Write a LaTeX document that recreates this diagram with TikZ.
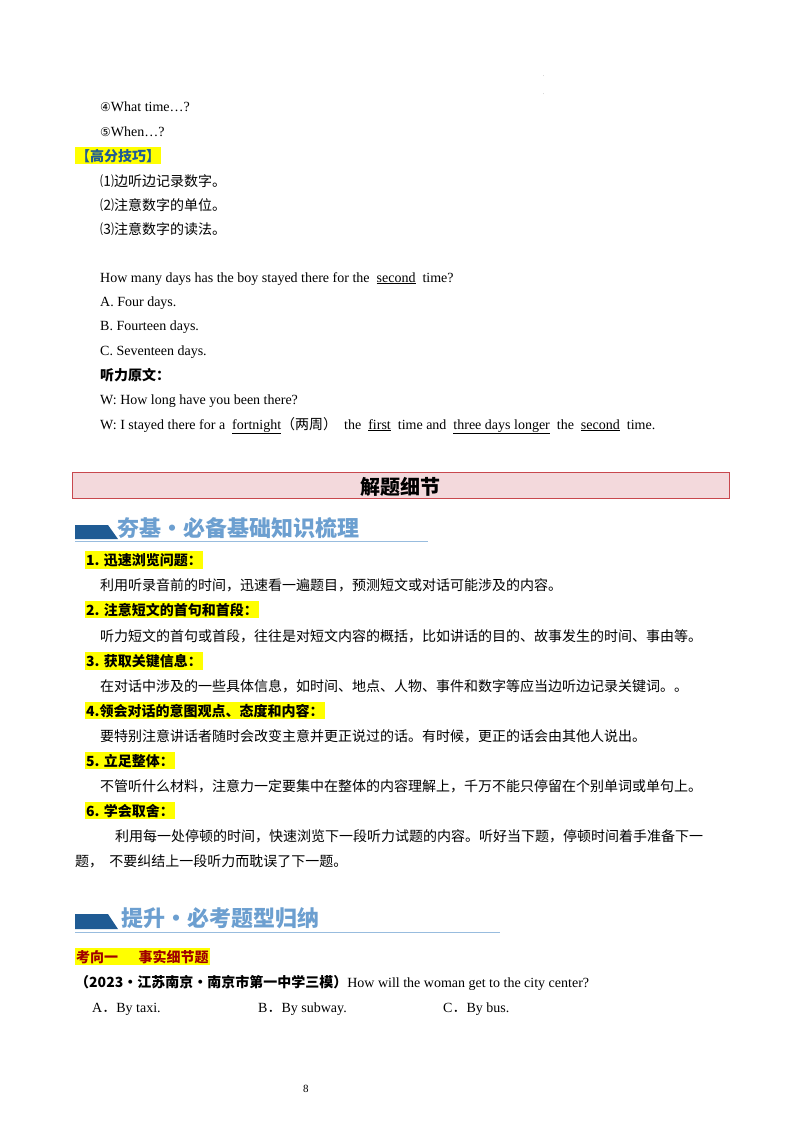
\documentclass[tikz,border=0pt]{standalone}
\usepackage{fontspec}
\setmainfont{Liberation Serif}
\newfontfamily\cjk{Noto Sans CJK SC}
\newfontfamily\sym{DejaVu Sans}
\definecolor{hl}{HTML}{FFFF00}
\definecolor{hdblue}{HTML}{6C9FD0}
\definecolor{darkblue}{HTML}{1F5B94}
\definecolor{pinkbox}{HTML}{F3D9DC}
\definecolor{redline}{HTML}{C8484E}
\definecolor{kx}{HTML}{A00000}
\begin{document}
\begin{tikzpicture}[x=1pt,y=-1pt,
  txt/.style={anchor=base west,inner sep=0pt,font=\fontsize{14}{16}\selectfont},
  hil/.style={txt,fill=hl,inner xsep=1pt,inner ysep=2pt},
  hd/.style={anchor=base west,inner sep=0pt,text=hdblue,font=\cjk\bfseries\fontsize{22}{24}\selectfont}]
\fill[white] (0,0) rectangle (800,1132);
\node[txt,font=\fontsize{4}{4}\selectfont] (d1) at (543,77) {.};
\node[txt,font=\fontsize{4}{4}\selectfont] (d2) at (543,94) {.};
\node[txt] (l1) at (100,111) {{\sym\fontsize{12}{14}\selectfont ④}What time…?};
\node[txt] (l2) at (100,136) {{\sym\fontsize{12}{14}\selectfont ⑤}When…?};
\node[hil,text=darkblue] (gf) at (75,161) {\cjk\bfseries 【高分技巧】};
\node[txt] (t1) at (100,186) {\cjk ⑴边听边记录数字。};
\node[txt] (t2) at (100,210) {\cjk ⑵注意数字的单位。};
\node[txt] (t3) at (100,234) {\cjk ⑶注意数字的读法。};
\node[txt] (q) at (100,282) {How many days has the boy stayed there for the \ \underline{second}\ \ time?};
\node[txt] (qa) at (100,306) {A. Four days.};
\node[txt] (qb) at (100,330) {B. Fourteen days.};
\node[txt] (qc) at (100,355) {C. Seventeen days.};
\node[txt] (yw) at (100,380) {\cjk\bfseries 听力原文：};
\node[txt] (w1) at (100,404) {W: How long have you been there?};
\node[txt] (w2) at (100,429) {W: I stayed there for a \ \underline{fortnight}{\cjk（两周）}\ \ the \ \underline{first}\ \ time and \ \underline{three days longer}\ \ the \ \underline{second}\ \ time.};
\node[draw=redline,line width=1pt,fill=pinkbox,minimum width=657,minimum height=26,inner sep=0pt] (tb) at (400.5,485) {};
\node[anchor=base,inner sep=0pt,font=\cjk\bfseries\fontsize{20}{22}\selectfont] (tt) at (400,494) {解题细节};
\fill[darkblue] (75,525) -- (108,525) -- (118,539) -- (75,539) -- cycle;
\draw[hdblue!70,line width=0.8pt] (75,541) -- (428,541);
\node[hd] (h1) at (117,536) {夯基·必备基础知识梳理};
\node[hil] (i1) at (85,565) {\cjk\bfseries 1. 迅速浏览问题：};
\node[txt] (b1) at (100,590) {\cjk 利用听录音前的时间，迅速看一遍题目，预测短文或对话可能涉及的内容。};
\node[hil] (i2) at (85,615) {\cjk\bfseries 2. 注意短文的首句和首段：};
\node[txt] (b2) at (100,641) {\cjk 听力短文的首句或首段，往往是对短文内容的概括，比如讲话的目的、故事发生的时间、事由等。};
\node[hil] (i3) at (85,666) {\cjk\bfseries 3. 获取关键信息：};
\node[txt] (b3) at (100,691) {\cjk 在对话中涉及的一些具体信息，如时间、地点、人物、事件和数字等应当边听边记录关键词。。};
\node[hil] (i4) at (85,716) {\cjk\bfseries 4.领会对话的意图观点、态度和内容：};
\node[txt] (b4) at (100,741) {\cjk 要特别注意讲话者随时会改变主意并更正说过的话。有时候，更正的话会由其他人说出。};
\node[hil] (i5) at (85,766) {\cjk\bfseries 5. 立足整体：};
\node[txt] (b5) at (100,791) {\cjk 不管听什么材料，注意力一定要集中在整体的内容理解上，千万不能只停留在个别单词或单句上。};
\node[hil] (i6) at (85,816) {\cjk\bfseries 6. 学会取舍：};
\node[txt] (b6) at (115,841) {\cjk 利用每一处停顿的时间，快速浏览下一段听力试题的内容。听好当下题，停顿时间着手准备下一};
\node[txt] (b7) at (75,866) {\cjk 题，\ \ 不要纠结上一段听力而耽误了下一题。};
\fill[darkblue] (75,914) -- (108,914) -- (118,929) -- (75,929) -- cycle;
\draw[hdblue!70,line width=0.8pt] (75,932) -- (500,932);
\node[hd] (h2) at (121,926) {提升·必考题型归纳};
\node[hil,text=kx] (kx) at (75,962) {\cjk\bfseries 考向一\quad\ \ 事实细节题};
\node[txt] (src) at (75,987) {{\cjk\bfseries（2023·江苏南京·南京市第一中学三模）}How will the woman get to the city center?};
\node[txt] (oa) at (92,1012) {A{\cjk ．}By taxi.};
\node[txt] (ob) at (258,1012) {B{\cjk ．}By subway.};
\node[txt] (oc) at (443,1012) {C{\cjk ．}By bus.};
\node[txt,font=\fontsize{11}{12}\selectfont] (pg) at (303,1092) {8};
\end{tikzpicture}
\end{document}
